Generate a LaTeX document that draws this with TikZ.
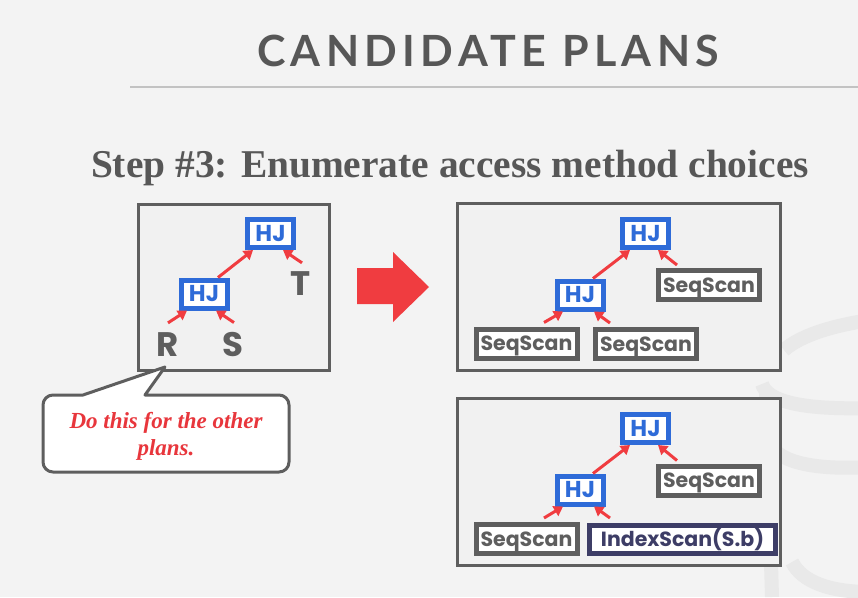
\documentclass[tikz,border=0pt]{standalone}
\usepackage{fontspec}
\setmainfont{Liberation Serif}
\newfontfamily\popf{Poppins}
\newfontfamily\titlef[LetterSpace=12.5]{Lato}
\usetikzlibrary{arrows.meta,calc}
\definecolor{bgc}{HTML}{F3F3F3}
\definecolor{panelc}{HTML}{F1F1F1}
\definecolor{boxgray}{HTML}{5E5E5E}
\definecolor{hjblue}{HTML}{2E6BD8}
\definecolor{navy}{HTML}{3D3D66}
\definecolor{arrred}{HTML}{F03C40}
\definecolor{titlegray}{HTML}{575757}
\definecolor{rulec}{HTML}{C2C2C2}
\definecolor{wm}{HTML}{E9E9E9}
\definecolor{notered}{HTML}{E8363C}
\begin{document}
\begin{tikzpicture}[x=1pt,y=-1pt,
  panel/.style={draw=boxgray, line width=3pt, fill=panelc},
  hj/.style={draw=hjblue, line width=5pt, fill=white, minimum width=46pt, minimum height=28pt, inner sep=0pt, text height=15.5pt, text depth=0pt, text=hjblue, font=\popf\bfseries\fontsize{23}{23}\selectfont},
  scan/.style={draw=boxgray, line width=5pt, fill=white, minimum width=101pt, minimum height=29pt, inner sep=0pt, text height=14.5pt, text depth=0pt, text=boxgray, font=\popf\bfseries\fontsize{20.5}{20.5}\selectfont},
  idx/.style={scan, draw=navy, text=navy, minimum width=186pt, minimum height=28pt},
  arr/.style={draw=arrred, line width=3pt, -{Triangle[length=9pt,width=11pt]}},
  lett/.style={text=boxgray, inner sep=0pt, font=\popf\bfseries\fontsize{34}{34}\selectfont},
  wmline/.style={draw=wm, line width=14pt}
]
\useasboundingbox (0,0) rectangle (858,597);
\fill[bgc] (0,0) rectangle (858,597);
% watermark
\draw[wmline] (784,350) .. controls (800,336) and (830,326) .. (870,320);
\draw[wmline] (762,384) .. controls (767,402) and (805,410) .. (870,408);
\draw[wmline] (770,444) .. controls (780,464) and (820,470) .. (870,467);
\draw[wmline] (792,562) .. controls (802,582) and (830,592) .. (870,592);
\draw[wmline] (766,392) -- (772,597);
% title
\node[text=titlegray, inner sep=0pt, font=\titlef\bfseries\fontsize{43}{43}\selectfont] (title) at (488,51) {CANDIDATE PLANS};
\draw[rulec, line width=2.5pt] (130,87) -- (858,87);
\node[text=titlegray, inner sep=0pt, anchor=base, font=\bfseries\fontsize{39.4}{39.4}\selectfont] (step) at (450,177) {Step \#3: Enumerate access method choices};
% left panel
\draw[panel] (138.5,204.5) rectangle (329.5,370.5);
\node[hj] (a1) at (270.5,233.5) {HJ};
\node[hj] (a2) at (204,294) {HJ};
\node[lett] (R) at (168,345) {R};
\node[lett] (S) at (233,345) {S};
\node[lett] (T) at (301,284) {T};
\draw[arr] ($(R.north)+(0,-10)$) -- ($(a2.south)+(-17,0)$);
\draw[arr] ($(S.north)+(1,-10)$) -- ($(a2.south)+(12,0)$);
\draw[arr] ($(a2.north)+(14,0)$) -- ($(a1.south)+(-17.5,0)$);
\draw[arr] ($(T.north)+(1,-9)$) -- ($(a1.south)+(12.5,0)$);
% big arrow
\fill[arrred] (357,268) -- (393,268) -- (393,252) -- (429,287) -- (393,322) -- (393,304) -- (357,304) -- cycle;
% right top panel
\draw[panel] (457.5,203.5) rectangle (780.5,370.5);
\node[hj] (b1) at (645.5,233.5) {HJ};
\node[hj] (b2) at (580,295) {HJ};
\node[scan] (b3) at (709,285) {SeqScan};
\node[scan] (b4) at (526.5,343.5) {SeqScan};
\node[scan] (b5) at (646,344) {SeqScan};
\draw[arr] ($(b4.north)+(17.5,-4)$) -- ($(b2.south)+(-17,0)$);
\draw[arr] ($(b5.north)+(-36,-4)$) -- ($(b2.south)+(14,0)$);
\draw[arr] ($(b2.north)+(13,0)$) -- ($(b1.south)+(-15.5,0)$);
\draw[arr] ($(b3.north)+(-32,-3)$) -- ($(b1.south)+(12.5,0)$);
% right bottom panel
\draw[panel] (457.5,398.5) rectangle (780.5,565.5);
\node[hj] (c1) at (645.5,428.5) {HJ};
\node[hj] (c2) at (580,490) {HJ};
\node[scan] (c3) at (709,480.5) {SeqScan};
\node[scan] (c4) at (526.5,539) {SeqScan};
\node[idx] (c5) at (682.5,539.5) {IndexScan(S.b)};
\draw[arr] ($(c4.north)+(17.5,-4)$) -- ($(c2.south)+(-17,0)$);
\draw[arr] ($(c5.north)+(-72.5,-5)$) -- ($(c2.south)+(14,0)$);
\draw[arr] ($(c2.north)+(13,0)$) -- ($(c1.south)+(-15.5,0)$);
\draw[arr] ($(c3.north)+(-32,-3)$) -- ($(c1.south)+(12.5,0)$);
% callout
\draw[draw=boxgray, line width=3pt, fill=white, line join=round]
  (145,395) [rounded corners=10pt] -- (289,395) -- (289,472) -- (43,472) -- (43,395) [sharp corners] -- (83,395) -- (165,367) -- cycle;
\node[text=notered, align=center, inner sep=0pt, font=\bfseries\itshape\fontsize{23}{27}\selectfont] (note) at (166,436) {Do this for the other\\plans.};
\end{tikzpicture}
\end{document}
